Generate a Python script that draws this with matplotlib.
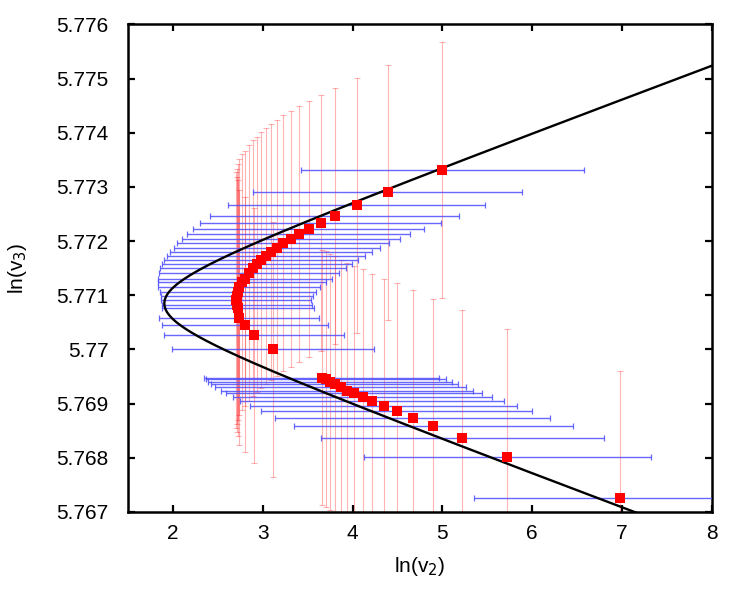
import numpy as np
import matplotlib
matplotlib.use("Agg")
import matplotlib.pyplot as plt

plt.rcParams['font.family'] = ['Liberation Sans', 'DejaVu Sans']

# upper arc of points
x_up = [5.000, 4.389, 4.044, 3.800, 3.644, 3.511, 3.400, 3.311, 3.222, 3.156,
        3.089, 3.033, 2.978, 2.933, 2.889, 2.844, 2.800, 2.767, 2.733, 2.722,
        2.711, 2.700, 2.711, 2.722, 2.733, 2.800, 2.900, 3.111]
y_up = [5.77331, 5.77290, 5.77266, 5.77246, 5.77233, 5.77222, 5.77213, 5.77204,
        5.77196, 5.77187, 5.77180, 5.77172, 5.77165, 5.77157, 5.77150, 5.77141,
        5.77131, 5.77124, 5.77115, 5.77106, 5.77098, 5.77091, 5.77083, 5.77076,
        5.77059, 5.77046, 5.77026, 5.77000]
xerr_up = [1.572, 1.494, 1.433, 1.389, 1.344, 1.289, 1.244, 1.211, 1.178, 1.144,
           1.122, 1.100, 1.078, 1.056, 1.033, 1.000, 0.967, 0.933, 0.900, 0.867,
           0.844, 0.833, 0.833, 0.844, 0.889, 0.922, 1.000, 1.122]
yerr_up = [0.00236] * 28

# lower branch of points
x_lo = [3.656, 3.706, 3.750, 3.800, 3.867, 3.939, 4.017, 4.111, 4.217, 4.344,
        4.489, 4.667, 4.900, 5.222, 5.722, 6.978]
y_lo = [5.76948, 5.76945, 5.76940, 5.76936, 5.76930, 5.76924, 5.76919, 5.76912,
        5.76904, 5.76895, 5.76886, 5.76873, 5.76858, 5.76836, 5.76802, 5.76725]
xerr_lo = [1.311, 1.333, 1.361, 1.378, 1.394, 1.406, 1.428, 1.444, 1.467, 1.489,
           1.511, 1.533, 1.556, 1.572, 1.600, 1.622]
yerr_lo = [0.00236] * 16

# model curve (hyperbola) parameters
hx0, hy0, ha, hb = 0.804, 5.77085, 1.1, 0.000679

x_all = x_up + x_lo
y_all = y_up + y_lo
xe_all = xerr_up + xerr_lo
ye_all = yerr_up + yerr_lo

fig = plt.figure(figsize=(7.5, 6), dpi=100)
ax = fig.add_axes([0.1707, 0.1467, 0.7786, 0.8125])

ax.errorbar(x_all, y_all, yerr=ye_all, fmt='none', ecolor=(1, 0.0, 0.0, 0.3),
            elinewidth=0.8, capsize=2.5, capthick=0.8, zorder=2)
ax.errorbar(x_all, y_all, xerr=xe_all, fmt='none', ecolor=(0.3, 0.3, 1.0, 0.85),
            elinewidth=1.0, capsize=2.5, capthick=0.9, zorder=3)

t = np.linspace(-3.0, 3.0, 600)
cx = hx0 + ha * np.cosh(t)
cy = hy0 + hb * np.sinh(t)
ax.plot(cx, cy, color='black', lw=1.7, zorder=4)

ax.plot(x_all, y_all, 's', color='#ff0000', markersize=7, markeredgewidth=0, zorder=5)

ax.set_xlim(1.5, 8)
ax.set_ylim(5.767, 5.776)
ax.set_xticks([2, 3, 4, 5, 6, 7, 8])
ax.set_yticks([5.767, 5.768, 5.769, 5.770, 5.771, 5.772, 5.773, 5.774, 5.775, 5.776])
ax.set_yticklabels(['5.767', '5.768', '5.769', '5.77', '5.771', '5.772', '5.773', '5.774', '5.775', '5.776'])
ax.tick_params(direction='in', length=5, width=1.6, top=True, right=True,
               labelsize=15)
ax.tick_params(axis='x', pad=9)
ax.tick_params(axis='y', pad=14)
for s in ax.spines.values():
    s.set_linewidth(1.8)

ax.set_xlabel(r'ln(v$_2$)', fontsize=15, labelpad=8)
ax.set_ylabel(r'ln(v$_3$)', fontsize=15, labelpad=20)

fig.savefig('out.png', dpi=100)
